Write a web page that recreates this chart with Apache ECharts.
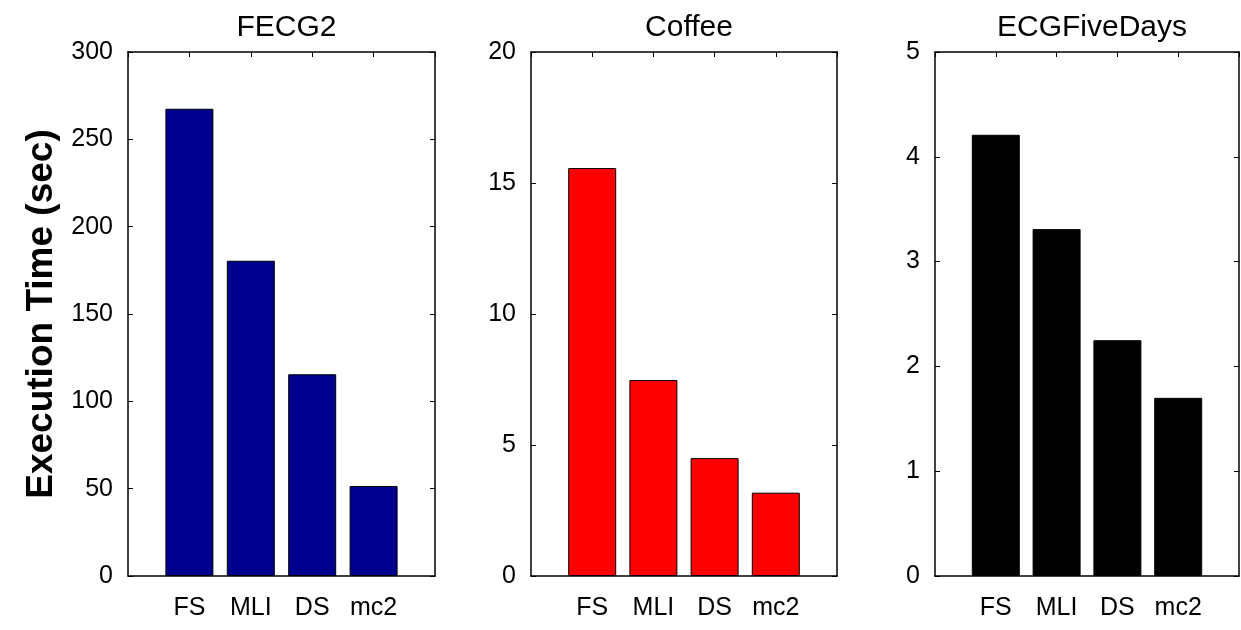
<!DOCTYPE html>
<html>
<head>
<meta charset="utf-8">
<script src="https://cdn.jsdelivr.net/npm/echarts@6/dist/echarts.min.js"></script>
<style>
html,body{margin:0;padding:0;background:#fff;}
#chart{width:1241px;height:630px;}
</style>
</head>
<body>
<div id="chart"></div>
<script>
const categories = ['FS', 'MLI', 'DS', 'mc2'];
const panelTitles = ['FECG2', 'Coffee', 'ECGFiveDays'];
const fecg2Values = [267.5, 180.5, 115.5, 51.5];
const coffeeValues = [15.57, 7.48, 4.5, 3.18];
const ecgFiveDaysValues = [4.21, 3.31, 2.25, 1.70];
const yMax = [300, 20, 5];
const yInterval = [50, 5, 1];
const colors = ['#00008F', '#FF0000', '#000000'];
const seriesValues = [fecg2Values, coffeeValues, ecgFiveDaysValues];

const gridPos = [
  {left: 128, width: 307},
  {left: 531, width: 306},
  {left: 935, width: 304}
];
const FONT = 'Liberation Sans, Arial, sans-serif';

const grids = [], xAxes = [], yAxes = [], series = [], titles = [];
gridPos.forEach((g, i) => {
  grids.push({left: g.left, top: 52, width: g.width, height: 524, containLabel: false});
  const axisLine = {show: true, onZero: false, lineStyle: {color: '#000', width: 1.5}};
  const axisTick = {show: true, inside: true, length: 5, lineStyle: {color: '#000', width: 1}};
  xAxes.push({
    type: 'value', gridIndex: i, min: 0, max: 5, interval: 1, position: 'bottom',
    axisLine, axisTick, splitLine: {show: false},
    axisLabel: {show: true, margin: 20, color: '#000', fontSize: 25, fontFamily: FONT,
      showMinLabel: false, showMaxLabel: false,
      formatter: v => (v >= 1 && v <= categories.length) ? categories[v - 1] : ''}
  });
  xAxes.push({
    type: 'value', gridIndex: i, min: 0, max: 5, interval: 1, position: 'top',
    axisLine, axisTick, splitLine: {show: false}, axisLabel: {show: false}
  });
  yAxes.push({
    type: 'value', gridIndex: i, min: 0, max: yMax[i], interval: yInterval[i], position: 'left',
    axisLine, axisTick, splitLine: {show: false},
    axisLabel: {show: true, margin: 15, color: '#000', fontSize: 25, fontFamily: FONT},
    name: i === 0 ? 'Execution Time (sec)' : '',
    nameLocation: 'middle', nameGap: 68, nameRotate: 90,
    nameTextStyle: {color: '#000', fontSize: 37, fontWeight: 'bold', fontFamily: FONT}
  });
  yAxes.push({
    type: 'value', gridIndex: i, min: 0, max: yMax[i], interval: yInterval[i], position: 'right',
    axisLine, axisTick, splitLine: {show: false}, axisLabel: {show: false}
  });
  series.push({
    type: 'bar', xAxisIndex: i * 2, yAxisIndex: i * 2,
    data: seriesValues[i].map((v, k) => [k + 1, v]),
    barWidth: 48,
    itemStyle: {color: colors[i], borderColor: '#000', borderWidth: 1},
    silent: true, animation: false
  });
  titles.push({
    text: panelTitles[i], left: g.left + g.width / 2, top: 8, textAlign: 'center',
    textStyle: {color: '#000', fontSize: 30, fontWeight: 'normal', fontFamily: FONT}
  });
});

const chart = echarts.init(document.getElementById('chart'), null, {renderer: 'canvas'});
chart.setOption({
  animation: false,
  backgroundColor: '#fff',
  title: titles,
  grid: grids,
  xAxis: xAxes,
  yAxis: yAxes,
  series: series
});
</script>
</body>
</html>
